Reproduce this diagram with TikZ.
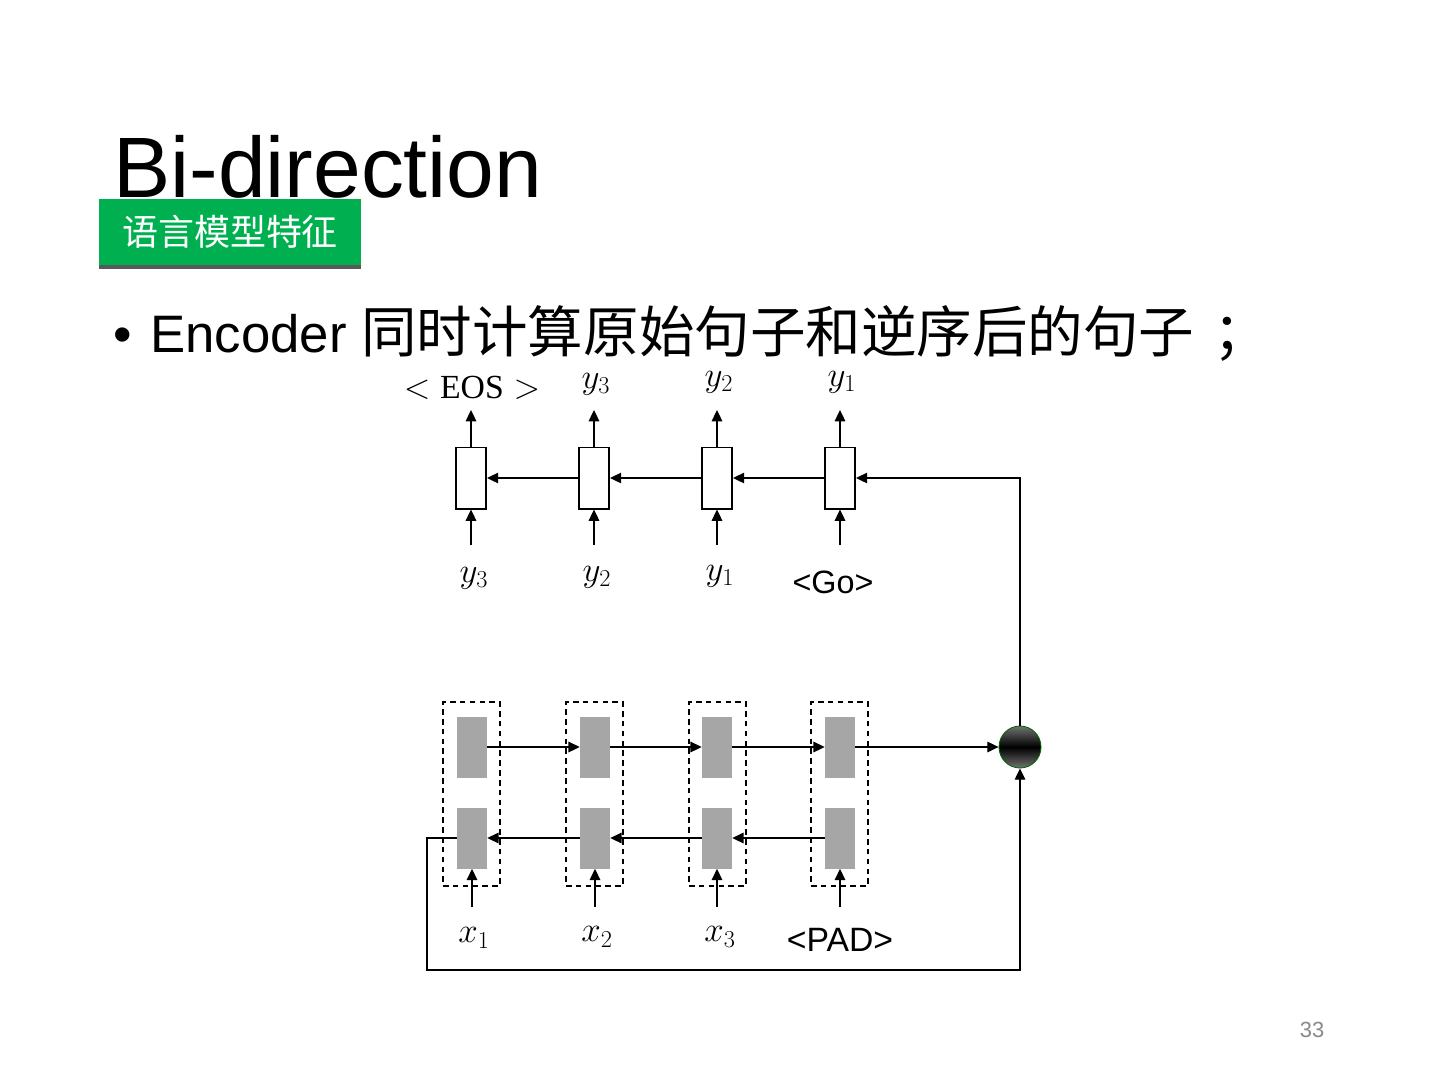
\documentclass[tikz,border=0pt]{standalone}
\usepackage{fontspec}
\setmainfont{Liberation Sans}
\setmathrm{Liberation Serif}
\newfontfamily\cjk{Noto Sans CJK SC}
\DeclareMathSizes{28}{28}{18}{14}
\DeclareMathSizes{24}{24}{16}{12}
\usetikzlibrary{arrows.meta, shapes.geometric}
\definecolor{tagGreen}{RGB}{0,176,80}
\definecolor{cellGray}{RGB}{166,166,166}
\definecolor{numGray}{RGB}{137,137,137}

\begin{document}
\begin{tikzpicture}[x=0.025cm, y=-0.025cm,
    arr/.style={line width=0.9pt, -{Triangle[length=8pt, width=7.5pt]}},
    dec/.style={draw, line width=1.4pt, fill=white, minimum width=0.75cm, minimum height=1.525cm, inner sep=0pt},
    cell/.style={fill=cellGray, minimum width=0.75cm, minimum height=1.525cm, inner sep=0pt},
    grp/.style={draw, dash pattern=on 4pt off 3pt, line width=1.3pt, minimum width=1.425cm, minimum height=4.6cm, inner sep=0pt},
    lbl/.style={font=\fontsize{28}{32}\selectfont, inner sep=0pt},
    word/.style={font=\fontsize{23}{27}\selectfont, inner sep=0pt}]
    \useasboundingbox[fill=white] (0,0) rectangle (1440,1080);

    % heading
    \node[anchor=base west, inner sep=0pt, font=\fontsize{61}{70}\selectfont] (title) at (113,197) {Bi-direction};
    \fill[black!65] (99,265) rectangle (361,269);
    \node[fill=tagGreen, text=white, minimum width=6.55cm, minimum height=1.65cm, inner sep=0pt, font=\cjk\fontsize{25.6}{30}\selectfont] (tag) at (230,232) {\raisebox{-3pt}{语言模型特征}};
    \node[anchor=base west, inner sep=0pt, font=\fontsize{37.5}{45}\selectfont] (dot) at (113,352) {•};
    \node[anchor=base west, inner sep=0pt, font=\fontsize{37.5}{45}\selectfont] (point) at (150,352) {Encoder {\cjk\fontsize{39.5}{45}\selectfont 同时计算原始句子和逆序后的句子\hspace{0.35em}；}};

    % decoder
    \node[dec] (d1) at (471,478) {};
    \node[dec] (d2) at (594,478) {};
    \node[dec] (d3) at (717,478) {};
    \node[dec] (d4) at (840,478) {};
    \draw[arr] (d2.west) -- (d1.east);
    \draw[arr] (d3.west) -- (d2.east);
    \draw[arr] (d4.west) -- (d3.east);

    \coordinate (o1) at (471,410);
    \coordinate (o2) at (594,410);
    \coordinate (o3) at (717,410);
    \coordinate (o4) at (840,410);
    \draw[arr] (d1.north) -- (o1);
    \draw[arr] (d2.north) -- (o2);
    \draw[arr] (d3.north) -- (o3);
    \draw[arr] (d4.north) -- (o4);
    \node[lbl, font=\fontsize{24}{28}\selectfont] (out1) at (472,388) {$<\mathrm{EOS}>$};
    \node[lbl] (out2) at (596,384) {$y_3$};
    \node[lbl] (out3) at (719,382) {$y_2$};
    \node[lbl] (out4) at (842,382) {$y_1$};

    \coordinate (i1) at (471,545);
    \coordinate (i2) at (594,545);
    \coordinate (i3) at (717,545);
    \coordinate (i4) at (840,545);
    \draw[arr] (i1) -- (d1.south);
    \draw[arr] (i2) -- (d2.south);
    \draw[arr] (i3) -- (d3.south);
    \draw[arr] (i4) -- (d4.south);
    \node[lbl] (in1) at (474,578) {$y_3$};
    \node[lbl] (in2) at (597,577) {$y_2$};
    \node[lbl] (in3) at (720,576) {$y_1$};
    \node[word] (in4) at (833,582) {<Go>};

    % encoder
    \node[grp] (g1) at (471.5,794) {};
    \node[grp] (g2) at (594.5,794) {};
    \node[grp] (g3) at (717.5,794) {};
    \node[grp] (g4) at (839.5,794) {};
    \node[cell] (f1) at (472,747) {};
    \node[cell] (f2) at (595,747) {};
    \node[cell] (f3) at (717,747) {};
    \node[cell] (f4) at (840,747) {};
    \node[cell] (b1) at (472,838) {};
    \node[cell] (b2) at (595,838) {};
    \node[cell] (b3) at (717,838) {};
    \node[cell] (b4) at (840,838) {};
    \node[circle, minimum size=1.05cm, inner sep=0pt, draw=green!40!black, line width=0.6pt,
          top color=black!55, bottom color=black!55, middle color=black] (mrg) at (1020,747) {};

    \draw[arr] (f1.east) -- (f2.west);
    \draw[arr] (f2.east) -- (f3.west);
    \draw[arr] (f3.east) -- (f4.west);
    \draw[arr] (f4.east) -- (mrg.west);
    \draw[arr] (b4.west) -- (b3.east);
    \draw[arr] (b3.west) -- (b2.east);
    \draw[arr] (b2.west) -- (b1.east);

    \coordinate (e1) at (472,907);
    \coordinate (e2) at (595,907);
    \coordinate (e3) at (717,907);
    \coordinate (e4) at (840,907);
    \draw[arr] (e1) -- (b1.south);
    \draw[arr] (e2) -- (b2.south);
    \draw[arr] (e3) -- (b3.south);
    \draw[arr] (e4) -- (b4.south);
    \node[lbl] (x1) at (474,938) {$x_1$};
    \node[lbl] (x2) at (597,937) {$x_2$};
    \node[lbl] (x3) at (720,937) {$x_3$};
    \node[word, font=\fontsize{24}{28}\selectfont] (x4) at (840,940) {<PAD>};

    % merge and feedback
    \coordinate (lp) at (427,970);
    \draw[arr] (b1.west) -| (lp) -| (mrg.south);
    \draw[arr] (mrg.north) |- (d4.east);

    \node[text=numGray, font=\fontsize{15.6}{18}\selectfont] (page) at (1312,1030) {33};
\end{tikzpicture}
\end{document}
